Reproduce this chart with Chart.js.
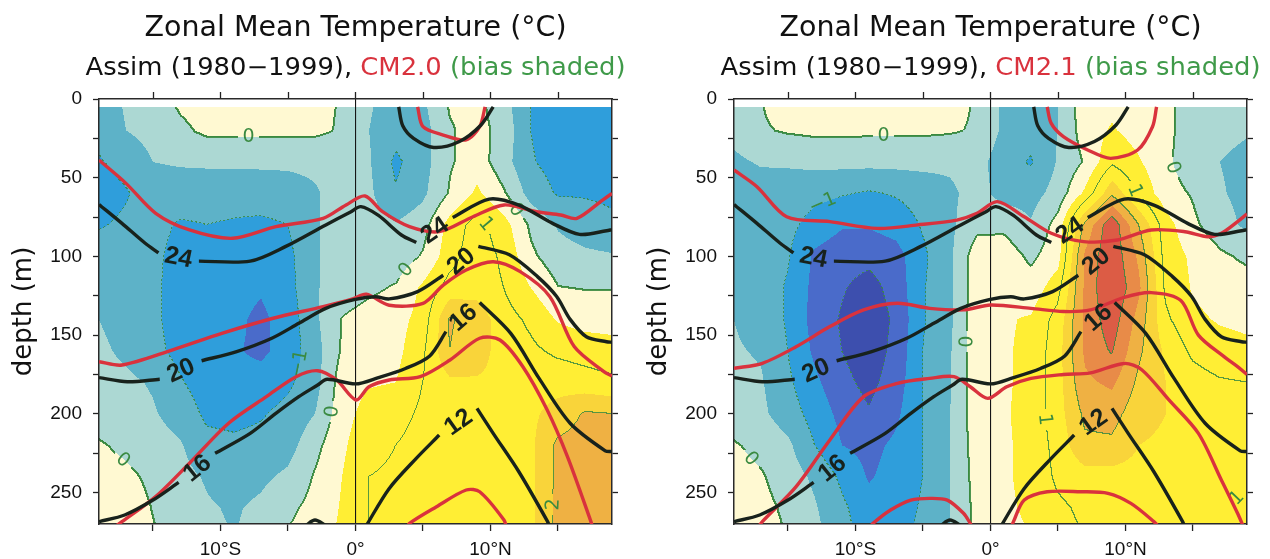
<!DOCTYPE html>
<html>
<head>
<meta charset="utf-8">
<title>Zonal Mean Temperature</title>
<script src="https://cdn.jsdelivr.net/npm/chart.js@4.4.1/dist/chart.umd.min.js"></script>
<style>
  html, body { margin: 0; padding: 0; background: #ffffff; }
  #wrap { display: flex; width: 1270px; height: 559px; }
  canvas { display: block; }
</style>
</head>
<body>
<div id="wrap">
  <canvas id="panelCM20" width="635" height="559"></canvas>
  <canvas id="panelCM21" width="635" height="559"></canvas>
</div>
<script>
// ---------------------------------------------------------------
// Grid of the temperature bias fields (model minus Assim, degC)
// ---------------------------------------------------------------
const latitudes = [-19, -17, -15, -13, -11, -9, -7, -5, -3, -1, 1, 3, 5, 7, 9, 11, 13, 15, 17, 19];
const depths = [5, 20, 40, 60, 80, 100, 120, 140, 160, 180, 200, 220, 240, 260, 280];

// CM2.0 bias, one row per depth level
const biasCM20 = [
  [-0.8, -0.45, -0.25, 0.05, 0.2, 0.25, 0.25, 0.2, 0.1, -0.03, -0.45, -0.75, -0.6, 0.05, 0.15, -0.3, -1.0, -1.3, -1.3, -1.3],
  [-0.85, -0.5, -0.35, -0.1, 0.1, 0.12, 0.12, 0.1, 0.1, -0.05, -0.5, -0.8, -0.7, -0.05, 0.2, -0.2, -1.0, -1.3, -1.3, -1.3],
  [-1.05, -0.8, -0.5, -0.45, -0.42, -0.42, -0.42, -0.42, -0.4, -0.3, -0.45, -1.1, -0.7, -0.05, 0.25, -0.3, -0.95, -1.2, -1.25, -1.3],
  [-1.3, -1.05, -0.75, -0.75, -0.8, -0.8, -0.75, -0.7, -0.55, -0.3, -0.4, -0.95, -0.6, 0.05, 0.6, 0.05, -0.7, -1.05, -1.05, -1.1],
  [-1.05, -0.9, -0.85, -1.05, -1.0, -1.05, -1.1, -1.0, -0.55, -0.3, -0.3, -0.45, -0.2, 0.7, 1.2, 0.7, -0.1, -0.55, -0.75, -0.9],
  [-0.75, -0.8, -0.9, -1.15, -1.2, -1.25, -1.3, -1.15, -0.55, -0.3, -0.2, -0.3, 0.05, 0.8, 1.3, 0.9, 0.1, -0.3, -0.4, -0.45],
  [-0.7, -0.75, -0.9, -1.2, -1.3, -1.35, -1.45, -1.2, -0.55, -0.25, -0.1, 0.05, 0.6, 1.2, 1.3, 1.0, 0.5, 0.02, -0.02, -0.02],
  [-0.5, -0.7, -0.9, -1.2, -1.35, -1.4, -1.6, -1.3, -0.6, 0.02, 0.2, 0.3, 0.7, 2.05, 1.8, 1.2, 0.9, 0.45, 0.3, 0.3],
  [-0.4, -0.6, -0.85, -1.15, -1.35, -1.45, -1.6, -1.3, -0.7, 0.05, 0.3, 0.35, 0.9, 2.0, 1.7, 1.3, 1.1, 0.9, 0.8, 0.7],
  [-0.3, -0.4, -0.55, -0.95, -1.25, -1.35, -1.3, -1.1, -0.7, 0.25, 0.45, 0.5, 1.0, 1.4, 1.45, 1.4, 1.3, 1.3, 1.2, 1.1],
  [-0.2, -0.3, -0.45, -0.7, -1.1, -1.15, -1.05, -0.85, -0.5, 0.3, 0.7, 0.8, 1.1, 1.3, 1.4, 1.4, 1.4, 1.7, 2.05, 2.0],
  [0.05, -0.1, -0.3, -0.45, -0.85, -0.9, -0.85, -0.7, -0.15, 0.4, 0.9, 1.0, 1.2, 1.3, 1.3, 1.35, 1.4, 2.1, 2.2, 2.2],
  [0.2, 0.1, -0.1, -0.35, -0.55, -0.7, -0.6, -0.4, 0.05, 0.5, 1.0, 1.05, 1.2, 1.2, 1.2, 1.3, 1.4, 2.1, 2.25, 2.3],
  [0.35, 0.25, -0.02, -0.2, -0.45, -0.55, -0.4, -0.1, 0.15, 0.55, 1.0, 1.1, 1.2, 1.2, 1.2, 1.3, 1.4, 2.15, 2.3, 2.3],
  [0.4, 0.3, 0.05, -0.2, -0.4, -0.5, -0.35, 0.05, 0.3, 0.6, 1.0, 1.1, 1.2, 1.2, 1.2, 1.3, 1.4, 2.15, 2.3, 2.3]
];

// CM2.1 bias, one row per depth level
const biasCM21 = [
  [-0.3, -0.02, 0.2, 0.25, 0.3, 0.3, 0.3, 0.25, 0.15, -0.05, -0.6, -0.8, -0.5, 0.3, 0.4, 0.25, 0.1, -0.2, -0.35, -0.45],
  [-0.35, -0.05, 0.05, 0.1, 0.1, 0.08, 0.08, 0.08, 0.05, -0.05, -0.6, -0.8, -0.5, 0.25, 0.55, 0.3, 0.1, -0.2, -0.35, -0.45],
  [-0.6, -0.45, -0.45, -0.38, -0.36, -0.36, -0.36, -0.36, -0.4, -0.3, -0.8, -1.05, -0.45, 0.05, 0.9, 0.55, 0.1, -0.3, -0.5, -0.65],
  [-0.7, -0.75, -0.7, -0.85, -0.95, -1.05, -0.95, -0.8, -0.6, -0.3, -0.7, -0.7, -0.3, 0.6, 1.9, 0.9, 0.2, -0.05, -0.45, -0.65],
  [-0.7, -0.8, -0.85, -1.2, -1.45, -1.45, -1.3, -0.95, -0.6, -0.15, -0.1, -0.45, 0.2, 2.1, 3.4, 2.0, 0.7, 0.1, -0.3, -0.6],
  [-0.65, -0.8, -0.95, -1.6, -1.8, -1.85, -1.7, -1.1, -0.6, 0.3, 0.25, -0.1, 0.3, 2.6, 3.4, 2.4, 0.8, 0.4, 0.1, -0.1],
  [-0.55, -0.75, -1.05, -1.65, -1.95, -2.2, -1.8, -1.05, -0.6, 0.3, 0.4, 0.2, 0.8, 2.6, 3.5, 2.6, 0.9, 0.45, 0.3, 0.25],
  [-0.5, -0.7, -1.05, -1.7, -2.05, -2.35, -1.9, -1.05, -0.6, 0.35, 0.45, 0.55, 1.2, 2.6, 3.3, 2.3, 1.1, 0.6, 0.45, 0.4],
  [-0.45, -0.55, -1.0, -1.6, -2.0, -2.3, -1.85, -1.0, -0.55, 0.35, 0.45, 0.6, 1.3, 2.6, 3.05, 2.1, 1.4, 0.9, 0.7, 0.6],
  [-0.35, -0.45, -0.9, -1.4, -1.85, -2.15, -1.75, -1.0, -0.55, 0.35, 0.45, 0.6, 1.3, 2.4, 2.6, 1.9, 1.5, 1.2, 1.05, 1.0],
  [-0.25, -0.4, -0.75, -1.2, -1.65, -1.95, -1.6, -1.0, -0.5, 0.3, 0.45, 0.65, 1.3, 2.1, 2.2, 1.7, 1.5, 1.4, 1.3, 1.2],
  [0.05, -0.15, -0.4, -1.0, -1.5, -1.65, -1.4, -1.0, -0.5, 0.25, 0.45, 0.6, 1.2, 1.9, 1.9, 1.5, 1.4, 1.4, 1.3, 1.2],
  [0.2, 0.05, -0.25, -0.6, -1.1, -1.55, -1.3, -1.0, -0.5, 0.2, 0.45, 0.6, 1.1, 1.3, 1.3, 1.3, 1.3, 1.3, 1.3, 1.2],
  [0.3, 0.15, -0.1, -0.45, -0.9, -1.3, -1.2, -0.95, -0.5, 0.15, 0.45, 0.55, 0.9, 1.1, 1.2, 1.2, 1.2, 1.2, 1.2, 1.2],
  [0.35, 0.2, 0.0, -0.35, -0.8, -1.2, -1.1, -0.9, -0.5, 0.15, 0.4, 0.5, 0.8, 1.0, 1.1, 1.1, 1.1, 1.1, 1.1, 1.1]
];

// ---------------------------------------------------------------
// Isotherms as [latitude, depth]; null breaks the line for its label
// ---------------------------------------------------------------
// Assim (1980-1999)
const assim28 = [[3.2, 5], [3.5, 17], [4.3, 25], [5.8, 30.8], [7.7, 27], [9.3, 16.5], [10.2, 5]];
const assim24 = [[-19, 67], [-17.3, 79], [-15.6, 91.5], [-14.6, 97.8], null, [-11.6, 103], [-7.8, 103], [-5.2, 93.8],
  [-2.2, 80], [-0.4, 72], [0.4, 68.4], [1.7, 74], [3.4, 86.4], [4.5, 91.2], null, [7.2, 75.3], [9.9, 63.6],
  [12.1, 67.4], [14.6, 79], [16.6, 86], [18.6, 83.7], [19, 83]];
const assim20 = [[-19, 177], [-16.9, 179.6], [-14.5, 178], null, [-11.4, 166.3], [-8.8, 160.5], [-6.2, 152],
  [-4.2, 142.5], [-2.2, 133], [-0.1, 127.5], [1.5, 125.6], [2.5, 127], [4.6, 122.4], [6.5, 112], null,
  [9.1, 93.6], [11.4, 99], [13.5, 113], [14.9, 125.5], [15.9, 140], [17.1, 151], [18.6, 154.2], [19, 154.5]];
const assim16 = [[-19, 268.5], [-17.1, 264.3], [-15, 254.8], [-13.1, 243.6], null, [-10.4, 225.1], [-7.8, 212.4],
  [-5.9, 199.7], [-4.2, 189.1], [-2.8, 181.7], [-2.1, 178], [0, 181], [1.7, 177], [3.7, 171.2], [5.5, 163.2],
  [6.7, 147.8], null, [9.2, 129.3], [11.5, 148.9], [13.6, 177.5], [15.9, 206], [18.5, 223.5], [19, 224]];
const assim12 = [[0.8, 271], [2.5, 247.4], [4.5, 228.3], [6.2, 213.5], null, [9.0, 196.5], [10.2, 212.4],
  [12.1, 236.8], [14.2, 268], [14.4, 272]];
const assim12South = [[-3.7, 271], [-3.0, 267.5], [-2.2, 271]];

// CM2.0
const cm20_28 = [[4.6, 5], [5.0, 17.6], [6.5, 22.9], [8.2, 26], [9.2, 17.6], [9.6, 5]];
const cm20_24 = [[-19, 38.8], [-17, 53.6], [-14.8, 72.6], [-12.3, 83.2], [-9.1, 88.5], [-5.9, 81.1], [-2.4, 75.8],
  [-0.7, 67.3], [0.7, 61.6], [2.0, 71.6], [4.0, 81.1], [6.2, 84.3], [8.7, 74.8], [11.0, 67.3], [13.4, 71.6],
  [15.2, 73.7], [16.4, 75.8], [18.3, 64.2], [19, 60]];
const cm20_20 = [[-19, 166.9], [-17.3, 169], [-13.6, 159.5], [-9.9, 148.9], [-6.1, 139.3], [-2.4, 131.9],
  [-0.2, 127], [0.8, 124], [2.5, 131], [5.0, 129.8], [6.5, 118.2], [8.2, 108.6], [10.2, 103.4], [12.2, 109.7],
  [14.4, 125.6], [16.2, 157.3], [18.4, 173.2], [19, 176]];
const cm20_16 = [[-18, 273], [-17.3, 268.5], [-14.8, 252.6], [-12.3, 231.4], [-9.4, 206], [-6.6, 189.1],
  [-4.4, 176.4], [-2.8, 172.6], [-1.4, 178.5], [0.05, 191.2], [1.0, 182.8], [2.5, 178.5], [4.8, 176.4],
  [7.0, 165.8], [9.2, 152], [10.7, 153.1], [12.4, 170.1], [14.2, 197.6], [15.7, 227.2], [17.4, 267.5], [17.6, 273]];
const cm20_12 = [[3.8, 273], [4.0, 269.6], [6.0, 259], [8.2, 248.4], [9.2, 249.5], [11.0, 267.5], [11.2, 273]];

// CM2.1
const cm21_28 = [[4.2, 5], [4.5, 15.5], [5.4, 23.9], [7.2, 32.4], [8.9, 37.7], [10.9, 32.4], [12.0, 17.6], [12.3, 5]];
const cm21_24 = [[-19, 45.1], [-17.3, 55.7], [-15.1, 74.8], [-11.9, 77.9], [-8.4, 82.2], [-5.4, 80], [-2.5, 76.9],
  [-1.0, 72.6], [0.5, 65.2], [2.5, 74.8], [4.5, 85.3], [6.9, 90.6], [9.4, 89.6], [11.9, 83.2], [14.4, 84.3],
  [16.1, 87.5], [17.1, 85.3], [18.3, 77.9], [19, 73]];
const cm21_20 = [[-19, 171.1], [-16.9, 167.9], [-14.4, 157.4], [-11.9, 144.6], [-9.4, 134], [-6.9, 129.8],
  [-4.5, 133], [-2.0, 134], [0, 130.9], [3.0, 133], [5.4, 135], [7.4, 134], [9.9, 126], [11.9, 123], [14.1, 128],
  [15.4, 150], [17.3, 163.7], [18.3, 170], [19, 175]];
const cm21_16 = [[-17.3, 273], [-16.9, 268.5], [-14.4, 246.3], [-11.9, 216.6], [-9.4, 189.1], [-6.9, 180.6],
  [-4.5, 177.5], [-2.7, 176.4], [-1.5, 182.8], [-0.2, 190.2], [1.2, 182.8], [3.0, 177.5], [5.4, 175], [7.4, 174],
  [9.9, 168], [11.2, 172], [13.2, 191], [15.4, 212.4], [17.1, 242], [18.3, 263.2], [18.8, 273]];
const cm21_12 = [[1.5, 273], [1.7, 268.5], [2.5, 254.8], [4.2, 249.5], [6.7, 249.5], [8.7, 250.5], [10.4, 256.9],
  [12.1, 268.5], [12.6, 273]];
const cm21_12South = [[-9.0, 273], [-8.7, 269.6], [-7.4, 261.1], [-5.9, 254.8], [-4.5, 253.7], [-3.2, 254.8],
  [-2.0, 263.2], [-1.5, 269.6], [-1.3, 273]];

// Bias contour labels: [latitude, depth, text]
const biasTagsCM20 = [[-8.0, 24, '0'], [4.2, 113, '0'], [-2.2, 198, '0'], [-17.5, 231, '0'], [11.7, 72.5, '0'],
  [-4.7, 166, '−1'], [9.7, 79, '1'], [14.4, 257, '2']];
const biasTagsCM21 = [[-8.0, 27, '0'], [-2.5, 154, '0'], [-17.3, 225, '0'], [12.9, 43, '0'], [11.4, 55, '1'],
  [-12.7, 62, '−1'], [4.0, 203, '1'], [18.2, 253, '1']];

// Axis ticks
const latTicks = [-15, -10, -5, 0, 5, 10, 15];
const latTickLabels = { '-10': '10°S', '0': '0°', '10': '10°N' };
const depthTicks = [0, 25, 50, 75, 100, 125, 150, 175, 200, 225, 250];

// ---------------------------------------------------------------
// Styling
// ---------------------------------------------------------------
const BLACK = '#18221c';
const RED = '#d9323d';
const GREEN = '#3a8a40';
const shadeBounds = [-2, -1.5, -1, -0.5, 0, 0.5, 1.5, 2, 2.5, 3];
const shadeColors = ['#3d4fae', '#4a6bca', '#2f9edb', '#5db2c8', '#acd8d3', '#fff9d2', '#ffee34',
  '#f9d43a', '#efb143', '#e88b48', '#dc5c45'];
const lineLevels = [-2, -1, 0, 1, 2, 3];

function hexToRgb(h) {
  const n = parseInt(h.slice(1), 16);
  return [(n >> 16) & 255, (n >> 8) & 255, n & 255];
}
const shadeRgb = shadeColors.map(hexToRgb);
const greenRgb = hexToRgb(GREEN);

// bilinear lookup in a bias grid
function sampleGrid(grid, lat, dep) {
  if (!(dep >= depths[0])) return NaN;
  const n = latitudes.length;
  let fi = (lat - latitudes[0]) / (latitudes[1] - latitudes[0]);
  fi = Math.max(0, Math.min(n - 1, fi));
  const c = Math.min(Math.floor(fi), n - 2);
  const s = fi - c;
  let r = 0;
  while (r < depths.length - 2 && dep > depths[r + 1]) r++;
  const t = Math.max(0, Math.min(1, (dep - depths[r]) / (depths[r + 1] - depths[r])));
  const top = grid[r][c] * (1 - s) + grid[r][c + 1] * s;
  const bot = grid[r + 1][c] * (1 - s) + grid[r + 1][c + 1] * s;
  return top * (1 - t) + bot * t;
}

function toPoints(arr) {
  return arr.map((p, i) => p ? { x: p[0], y: p[1] } : { x: (arr[i - 1][0] + arr[i + 1][0]) / 2, y: null });
}

// shaded bias field with its green contour lines and labels
function biasFieldPlugin(grid, tags) {
  return {
    id: 'biasField',
    beforeDraw(chart) {
      const { ctx, chartArea: a, scales } = chart;
      const xs = scales.x, ys = scales.y;
      const x0 = Math.round(a.left), y0 = Math.round(a.top);
      const w = Math.round(a.right) - x0, h = Math.round(a.bottom) - y0;
      const vals = new Float32Array(w * h);
      const lats = new Float32Array(w);
      for (let i = 0; i < w; i++) lats[i] = xs.getValueForPixel(x0 + i + 0.5);
      for (let j = 0; j < h; j++) {
        const d = ys.getValueForPixel(y0 + j + 0.5);
        for (let i = 0; i < w; i++) vals[j * w + i] = sampleGrid(grid, lats[i], d);
      }
      const at = (i, j) => (i < 0 || j < 0 || i >= w || j >= h) ? NaN : vals[j * w + i];
      const isEdge = (i, j, L) => {
        const v = at(i, j), vr = at(i + 1, j), vb = at(i, j + 1);
        if (isNaN(v)) return false;
        return (!isNaN(vr) && (v < L) !== (vr < L)) || (!isNaN(vb) && (v < L) !== (vb < L));
      };

      // snap every label onto the nearest pixel of its contour
      const placed = tags.map(([lat, dep, text]) => {
        const L = parseFloat(text.replace('−', '-'));
        const ti = Math.round(xs.getPixelForValue(lat) - x0);
        const tj = Math.round(ys.getPixelForValue(dep) - y0);
        let best = null, bestD = Infinity;
        for (let dj = -30; dj <= 30; dj++) for (let di = -30; di <= 30; di++) {
          const dd = di * di + dj * dj;
          if (dd < bestD && isEdge(ti + di, tj + dj, L)) { bestD = dd; best = [ti + di, tj + dj]; }
        }
        const [pi, pj] = best || [ti, tj];
        const gx = at(pi + 3, pj) - at(pi - 3, pj);
        const gy = at(pi, pj + 3) - at(pi, pj - 3);
        let ang = Math.atan2(-gx, gy);
        if (isNaN(ang)) ang = 0;
        if (ang > Math.PI / 2) ang -= Math.PI;
        if (ang < -Math.PI / 2) ang += Math.PI;
        return { i: pi, j: pj, text, ang, r: text.length > 1 ? 14 : 11 };
      });
      const masked = (i, j) => placed.some(p => (i - p.i) * (i - p.i) + (j - p.j) * (j - p.j) < p.r * p.r);

      const off = document.createElement('canvas');
      off.width = w; off.height = h;
      const octx = off.getContext('2d');
      const img = octx.createImageData(w, h);
      const px = img.data;
      for (let k = 0; k < w * h; k++) {
        const v = vals[k];
        if (isNaN(v)) continue;
        let idx = 0;
        while (idx < shadeBounds.length && v >= shadeBounds[idx]) idx++;
        const c = shadeRgb[idx];
        px[k * 4] = c[0]; px[k * 4 + 1] = c[1]; px[k * 4 + 2] = c[2]; px[k * 4 + 3] = 255;
      }
      const paint = (k, alpha) => {
        px[k * 4] = Math.round(px[k * 4] * (1 - alpha) + greenRgb[0] * alpha);
        px[k * 4 + 1] = Math.round(px[k * 4 + 1] * (1 - alpha) + greenRgb[1] * alpha);
        px[k * 4 + 2] = Math.round(px[k * 4 + 2] * (1 - alpha) + greenRgb[2] * alpha);
        px[k * 4 + 3] = 255;
      };
      for (let j = 0; j < h - 1; j++) {
        for (let i = 0; i < w - 1; i++) {
          const k = j * w + i;
          const v = vals[k], vr = vals[k + 1], vb = vals[k + w];
          if (isNaN(v) || isNaN(vb)) continue;
          for (const L of lineLevels) {
            if ((v < L) === (vr < L) && (v < L) === (vb < L)) continue;
            if (masked(i, j)) break;
            const steepX = Math.abs(vr - v) > Math.abs(vb - v);
            if (L < 0) {
              const phase = steepX ? (j >> 1) : (i >> 1);
              if (phase & 1) break;
              paint(k, 0.85);
            } else if (L === 0) {
              paint(k, 1);
              paint(steepX ? k + 1 : k + w, 0.9);
            } else {
              paint(k, 0.85);
            }
            break;
          }
        }
      }
      octx.putImageData(img, 0, 0);
      ctx.drawImage(off, x0, y0);

      ctx.save();
      ctx.fillStyle = GREEN;
      ctx.font = '19px "DejaVu Sans"';
      ctx.textAlign = 'center';
      ctx.textBaseline = 'middle';
      placed.forEach(p => {
        ctx.save();
        ctx.translate(x0 + p.i + 0.5, y0 + p.j + 0.5);
        ctx.rotate(p.ang);
        ctx.fillText(p.text, 0, 1);
        ctx.restore();
      });
      ctx.restore();
    }
  };
}

// labels sitting in the breaks of the Assim isotherms
const isothermLabelPlugin = {
  id: 'isothermLabels',
  afterDatasetsDraw(chart) {
    const { ctx } = chart;
    ctx.save();
    ctx.font = 'bold 25px "Liberation Sans"';
    ctx.fillStyle = BLACK;
    ctx.textAlign = 'center';
    ctx.textBaseline = 'middle';
    chart.data.datasets.forEach((ds, di) => {
      if (!ds.isoLabel) return;
      const meta = chart.getDatasetMeta(di);
      ds.data.forEach((p, k) => {
        if (p.y !== null || k === 0 || k === ds.data.length - 1) return;
        const a = meta.data[k - 1], b = meta.data[k + 1];
        let ang = Math.atan2(b.y - a.y, b.x - a.x);
        if (ang > Math.PI / 2) ang -= Math.PI;
        if (ang < -Math.PI / 2) ang += Math.PI;
        ctx.save();
        ctx.translate((a.x + b.x) / 2, (a.y + b.y) / 2);
        ctx.rotate(ang);
        ctx.fillText(ds.isoLabel, 0, 1);
        ctx.restore();
      });
    });
    ctx.restore();
  }
};

// two-line heading above each panel
function headingPlugin(modelName) {
  const drawFitted = (ctx, parts, cx, cy, font, width) => {
    ctx.font = font;
    const ws = parts.map(p => ctx.measureText(p.text).width);
    const total = ws.reduce((s, v) => s + v, 0);
    ctx.save();
    ctx.translate(cx - width / 2, cy);
    ctx.scale(width / total, 1);
    ctx.textAlign = 'left';
    ctx.textBaseline = 'middle';
    let x = 0;
    parts.forEach((p, i) => { ctx.fillStyle = p.color; ctx.fillText(p.text, x, 0); x += ws[i]; });
    ctx.restore();
  };
  return {
    id: 'heading',
    afterDraw(chart) {
      const { ctx, chartArea: a } = chart;
      const cx = (a.left + a.right) / 2;
      drawFitted(ctx, [{ text: 'Zonal Mean Temperature (°C)', color: '#111111' }], cx, 28,
        '29px "DejaVu Sans"', 422);
      drawFitted(ctx, [
        { text: 'Assim (1980−1999), ', color: '#111111' },
        { text: modelName, color: RED },
        { text: ' (bias shaded)', color: '#3f9a49' }
      ], cx, 69, '24px "DejaVu Sans"', 540);
    }
  };
}

function lineSet(arr, color, isoLabel) {
  return {
    data: toPoints(arr),
    borderColor: color,
    borderWidth: 3.4,
    pointRadius: 0,
    tension: 0.3,
    fill: false,
    order: color === BLACK ? 0 : 1,
    isoLabel: isoLabel || null
  };
}

function makePanel(canvasId, modelName, grid, tags, modelLines) {
  const frame = { display: true, color: '#2a2a2a', width: 1.5 };
  const tickFont = { family: 'Liberation Sans', size: 19 };
  const setTicks = values => scale => { scale.ticks = values.map(v => ({ value: v })); };
  const datasets = [
    ...modelLines.map(l => lineSet(l, RED)),
    lineSet(assim28, BLACK),
    lineSet(assim24, BLACK, '24'),
    lineSet(assim20, BLACK, '20'),
    lineSet(assim16, BLACK, '16'),
    lineSet(assim12, BLACK, '12'),
    lineSet(assim12South, BLACK)
  ];
  return new Chart(document.getElementById(canvasId), {
    type: 'line',
    data: { datasets },
    options: {
      responsive: false,
      devicePixelRatio: 1,
      animation: false,
      layout: { padding: 0 },
      plugins: { legend: { display: false }, tooltip: { enabled: false }, title: { display: false } },
      scales: {
        x: {
          type: 'linear', position: 'bottom', min: -19, max: 19, bounds: 'data',
          afterBuildTicks: setTicks(latTicks),
          ticks: {
            autoSkip: false, maxRotation: 0, padding: 7,
            color: '#111111', font: tickFont,
            callback: v => latTickLabels[String(v)] || ''
          },
          grid: {
            drawOnChartArea: true, lineWidth: 1.1, tickLength: 7, tickColor: '#222222', tickWidth: 1.3,
            color: c => (c.tick && c.tick.value === 0) ? '#151515' : 'rgba(0,0,0,0)'
          },
          border: frame,
          afterFit: s => { s.height = 35; }
        },
        x2: {
          type: 'linear', position: 'top', min: -19, max: 19, bounds: 'data',
          afterBuildTicks: setTicks(latTicks),
          ticks: { autoSkip: false, maxRotation: 0, callback: () => '' },
          grid: { drawOnChartArea: false, tickLength: 7, tickColor: '#222222', tickWidth: 1.3 },
          border: frame,
          afterFit: s => { s.height = 99; }
        },
        y: {
          type: 'linear', position: 'left', reverse: true, min: 0, max: 270, bounds: 'data',
          afterBuildTicks: setTicks(depthTicks),
          ticks: {
            autoSkip: false, padding: 11,
            color: '#111111', font: tickFont,
            callback: v => (v % 50 === 0 ? String(v) : '')
          },
          grid: { drawOnChartArea: false, tickLength: 6, tickColor: '#222222', tickWidth: 1.3 },
          border: frame,
          title: {
            display: true, text: 'depth (m)', color: '#111111',
            font: { family: 'DejaVu Sans', size: 26 }, padding: { top: 9, bottom: 0 }
          },
          afterFit: s => { s.width = 99; }
        },
        y2: {
          type: 'linear', position: 'right', reverse: true, min: 0, max: 270, bounds: 'data',
          afterBuildTicks: setTicks(depthTicks),
          ticks: { autoSkip: false, callback: () => '' },
          grid: { drawOnChartArea: false, tickLength: 6, tickColor: '#222222', tickWidth: 1.3 },
          border: frame,
          afterFit: s => { s.width = 23; }
        }
      }
    },
    plugins: [biasFieldPlugin(grid, tags), isothermLabelPlugin, headingPlugin(modelName)]
  });
}

makePanel('panelCM20', 'CM2.0', biasCM20, biasTagsCM20, [cm20_28, cm20_24, cm20_20, cm20_16, cm20_12]);
makePanel('panelCM21', 'CM2.1', biasCM21, biasTagsCM21, [cm21_28, cm21_24, cm21_20, cm21_16, cm21_12, cm21_12South]);
</script>
</body>
</html>
